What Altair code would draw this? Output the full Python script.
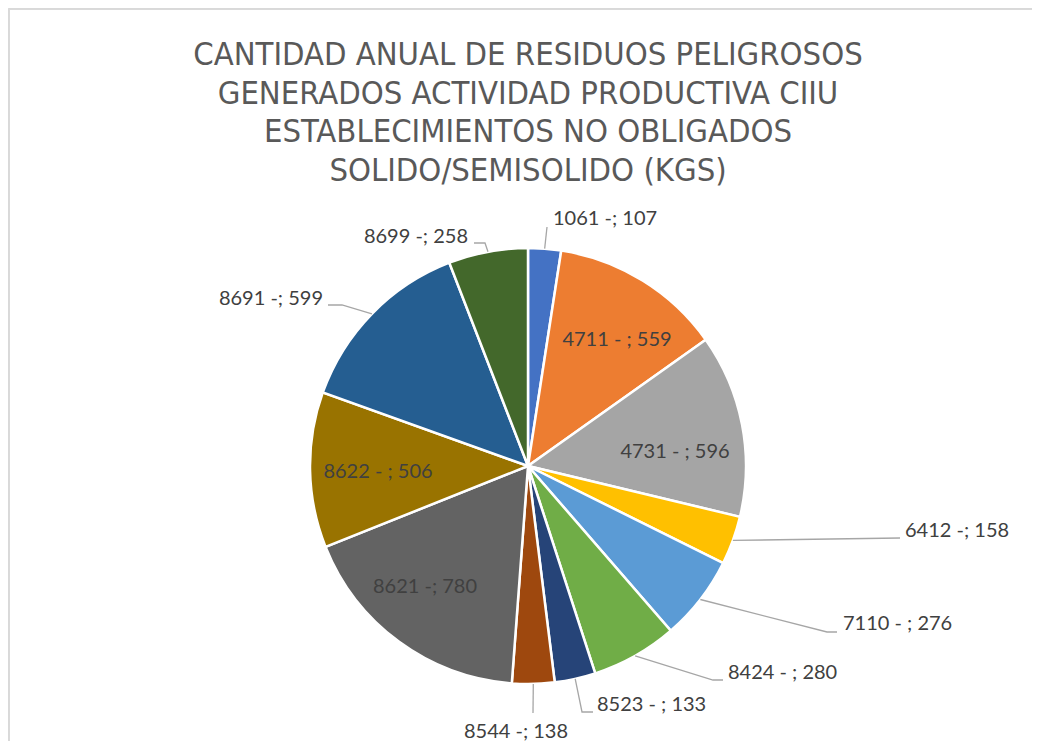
import math
import altair as alt
import pandas as pd

# ---- data ----
codes = ["1061", "4711", "4731", "6412", "7110", "8424", "8523", "8544", "8621", "8622", "8691", "8699"]
values = [107, 559, 596, 158, 276, 280, 133, 138, 780, 506, 599, 258]
label_text = ["1061 -; 107", "4711 - ; 559", "4731 - ; 596", "6412 -; 158", "7110 - ; 276",
              "8424 - ; 280", "8523 - ; 133", "8544 -; 138", "8621 -; 780", "8622 - ; 506",
              "8691 -; 599", "8699 -; 258"]
colors = ["#4472C4", "#ED7D31", "#A5A5A5", "#FFC000", "#5B9BD5", "#70AD47",
          "#264478", "#9E480E", "#636363", "#997300", "#255E91", "#43682B"]
title_lines = ["CANTIDAD ANUAL DE RESIDUOS PELIGROSOS",
               "GENERADOS ACTIVIDAD PRODUCTIVA CIIU",
               "ESTABLECIMIENTOS NO OBLIGADOS",
               "SOLIDO/SEMISOLIDO (KGS)"]

# ---- label placement (relative to pie centre, px) ----
label_pos = {
    "1061": (25, -247, "left"), "4711": (89, -126, "center"), "4731": (147, -14, "center"),
    "6412": (377, 65, "left"), "7110": (315, 158, "left"), "8424": (200, 207, "left"),
    "8523": (69, 239, "left"), "8544": (-12, 266, "center"), "8621": (-103, 121, "center"),
    "8622": (-150, 6, "center"), "8691": (-205, -167, "right"), "8699": (-60, -229, "right"),
}
# leader-line bend points after the slice edge
leader_pts = {
    "1061": [(19, -239)],
    "6412": [(372, 72)],
    "7110": [(299, 166), (309, 166)],
    "8424": [(185, 214), (195, 214)],
    "8523": [(54, 246), (65, 246)],
    "8544": [(5, 247)],
    "8691": [(-186, -161), (-200, -161)],
    "8699": [(-43, -223), (-54, -223)],
}

R = 218
W, H = 1008, 550

df = pd.DataFrame({"code": codes, "value": values, "label": label_text, "idx": range(len(codes))})

lab = pd.DataFrame({
    "label": label_text,
    "lx": [label_pos[c][0] for c in codes],
    "ly": [label_pos[c][1] for c in codes],
    "align": [label_pos[c][2] for c in codes],
})

total = sum(values)
rows = []
cum = 0
for c, v in zip(codes, values):
    mid = (cum + v / 2) / total * 2 * math.pi
    cum += v
    if c in leader_pts:
        pts = [(R * math.sin(mid), -R * math.cos(mid))] + leader_pts[c]
        for k, (px, py) in enumerate(pts):
            rows.append({"code": c, "k": k, "px": px, "py": py})
lead = pd.DataFrame(rows)

xs = alt.Scale(domain=[-W / 2, W / 2], range=[0, W])
ys = alt.Scale(domain=[-H / 2, H / 2], range=[0, H])

pie = alt.Chart(df).mark_arc(outerRadius=R, stroke="white", strokeWidth=2.5).encode(
    theta=alt.Theta("value:Q", stack=True),
    order=alt.Order("idx:Q"),
    color=alt.Color("code:N", scale=alt.Scale(domain=codes, range=colors), legend=None),
)

leaders = alt.Chart(lead).mark_line(color="#a6a6a6", strokeWidth=1.3).encode(
    x=alt.X("px:Q", scale=xs, axis=None),
    y=alt.Y("py:Q", scale=ys, axis=None),
    detail="code:N",
    order="k:Q",
)

def text_layer(al):
    return alt.Chart(lab[lab["align"] == al]).mark_text(
        font="Lato", fontSize=20, color="#404040", align=al, baseline="middle"
    ).encode(
        x=alt.X("lx:Q", scale=xs, axis=None),
        y=alt.Y("ly:Q", scale=ys, axis=None),
        text="label:N",
    )

title_df = pd.DataFrame({"t": ["\n".join(title_lines)]})
title = alt.Chart(title_df).mark_text(
    font="DejaVu Sans Condensed, Roboto, sans-serif", fontSize=32.5, color="#595959", lineHeight=38.5,
    lineBreak="\n", align="center", baseline="alphabetic",
).encode(x=alt.value(W / 2), y=alt.value(-126), text="t:N")

border_top = alt.Chart(df).mark_rule(color="#d9d9d9", strokeWidth=1.5).encode(
    x=alt.value(-15.25), x2=alt.value(W + 20), y=alt.value(-182.25)
)
border_left = alt.Chart(df).mark_rule(color="#d9d9d9", strokeWidth=1.5).encode(
    x=alt.value(-15.25), y=alt.value(-182.25), y2=alt.value(H + 20)
)

chart = alt.layer(
    border_top, border_left, title, pie, leaders,
    text_layer("left"), text_layer("right"), text_layer("center"),
).properties(
    width=W, height=H,
    autosize=alt.AutoSizeParams(type="none"),
    padding={"left": 16, "top": 183, "right": 0, "bottom": 0},
).configure(
    background="white",
    view=alt.ViewConfig(stroke="transparent", strokeWidth=0),
)

chart.save("out.html", embed_options={"renderer": "svg", "actions": False})
